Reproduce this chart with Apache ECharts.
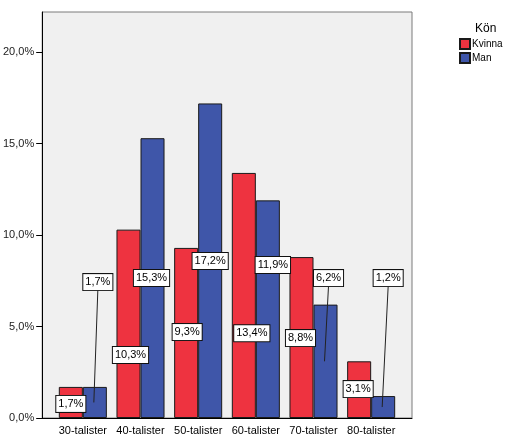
<!DOCTYPE html>
<html>
<head>
<meta charset="utf-8">
<script src="https://cdn.jsdelivr.net/npm/echarts@6/dist/echarts.min.js"></script>
<style>
  html, body { margin: 0; padding: 0; background: #fff; }
  #chart { width: 510px; height: 444px; }
</style>
</head>
<body>
<div id="chart"></div>
<script>
var categories = ['30-talister', '40-talister', '50-talister', '60-talister', '70-talister', '80-talister'];
var kvinna = [1.7, 10.3, 9.3, 13.4, 8.8, 3.1];
var man = [1.7, 15.3, 17.2, 11.9, 6.2, 1.2];
var yTicks = [0, 5, 10, 15, 20];

// where the value boxes sit (label centre height in % units, x shift in px)
var labelPos = {
  Kvinna: { h: [0.77, 3.44, 4.7, 4.64, 4.37, 1.58], dx: [0, 2, 1, 8, -1, -1] },
  Man: { h: [7.43, 7.65, 8.58, 8.36, 7.65, 7.65], dx: [3, -1, 0, 5, 3, 5] }
};
// Man bars whose box is pulled out with a leader line
var leaderIdx = [0, 4, 5];

var font = 'Liberation Sans, Arial, sans-serif';
var catGap = 0.167;
var myChart = echarts.init(document.getElementById('chart'));

function fmt(v) {
  return v.toFixed(1).replace('.', ',') + '%';
}

function makeSeries(name, values, color) {
  return {
    name: name,
    type: 'bar',
    xAxisIndex: 1,
    yAxisIndex: 1,
    barGap: '0%',
    barCategoryGap: (catGap * 100) + '%',
    itemStyle: { color: color, borderColor: '#1a1a1a', borderWidth: 1 },
    data: values,
    label: {
      show: true,
      position: 'inside',
      formatter: function (p) { return fmt(p.value); },
      color: '#000',
      fontFamily: font,
      fontSize: 11,
      backgroundColor: '#fff',
      borderColor: '#111',
      borderWidth: 1,
      padding: [3, 2, 2, 2]
    },
    labelLayout: function (p) {
      var i = p.dataIndex;
      var bottom = p.rect.y + p.rect.height;
      var per = p.rect.height / values[i];
      var cx = p.rect.x + p.rect.width / 2;
      return {
        x: cx + labelPos[name].dx[i],
        y: bottom - labelPos[name].h[i] * per,
        align: 'center',
        verticalAlign: 'middle'
      };
    }
  };
}

var leaderData = leaderIdx.map(function (i) {
  return [i, man[i], labelPos.Man.h[i], labelPos.Man.dx[i]];
});

myChart.setOption({
  animation: false,
  title: {
    text: 'Kön',
    left: 470,
    top: 18,
    textStyle: { fontFamily: font, fontSize: 12, fontWeight: 'normal', color: '#000' }
  },
  legend: {
    data: ['Kvinna', 'Man'],
    orient: 'vertical',
    left: 459,
    top: 38,
    padding: 0,
    itemWidth: 10,
    itemHeight: 10,
    itemGap: 2,
    icon: 'rect',
    textStyle: { fontFamily: font, fontSize: 10, color: '#000', padding: [0, 0, 0, -3] }
  },
  grid: [
    { left: 41, right: 98, top: 12, bottom: 26, show: true, backgroundColor: '#f0f0f0', borderColor: '#7a7a7a', borderWidth: 1 },
    { left: 54, right: 110, top: 12, bottom: 26 }
  ],
  xAxis: [
    {
      gridIndex: 0, type: 'value', min: 0, max: 1,
      axisLine: { show: true, lineStyle: { color: '#000' } },
      axisTick: { show: false }, axisLabel: { show: false }, splitLine: { show: false }
    },
    {
      gridIndex: 1, type: 'category', data: categories,
      axisLine: { show: false }, axisTick: { show: false },
      axisLabel: { color: '#000', fontFamily: font, fontSize: 11, margin: 7, interval: 0 }
    }
  ],
  yAxis: [
    {
      gridIndex: 0, type: 'value', min: 0, max: 22.2, interval: 5,
      axisLine: { show: true, lineStyle: { color: '#000' } },
      axisTick: {
        show: true, length: 6, lineStyle: { color: '#000' },
        customValues: yTicks
      },
      axisLabel: {
        color: '#222', fontFamily: font, fontSize: 11, margin: 8,
        customValues: yTicks,
        formatter: function (v) { return fmt(v); }
      },
      splitLine: { show: false }
    },
    { gridIndex: 1, type: 'value', min: 0, max: 22.2, show: false }
  ],
  series: [
    makeSeries('Kvinna', kvinna, '#ee3340'),
    makeSeries('Man', man, '#3f56a9'),
    {
      type: 'custom',
      xAxisIndex: 1,
      yAxisIndex: 1,
      z: 3,
      silent: true,
      data: leaderData,
      renderItem: function (params, api) {
        var band = api.size([1, 0])[0];
        var off = band * (1 - catGap) / 4;
        var barPt = api.coord([api.value(0), api.value(1) / 2]);
        var lab = api.coord([api.value(0), api.value(2)]);
        return {
          type: 'line',
          shape: {
            x1: lab[0] + off + api.value(3), y1: lab[1] + 8,
            x2: barPt[0] + off - 1, y2: barPt[1]
          },
          style: { stroke: '#222', lineWidth: 1 }
        };
      }
    }
  ]
});
</script>
</body>
</html>
